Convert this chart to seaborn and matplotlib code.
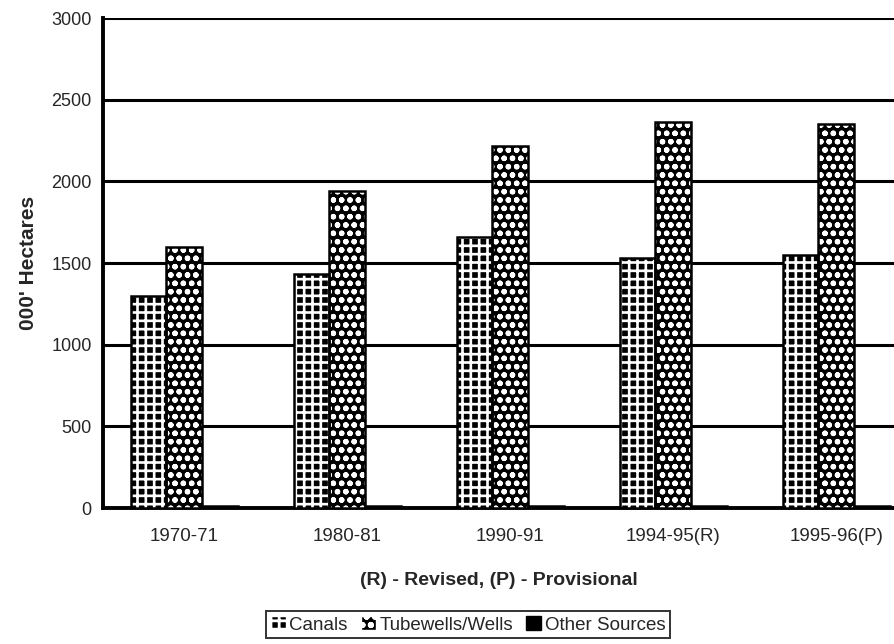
import matplotlib
matplotlib.use("Agg")
import matplotlib.pyplot as plt
import seaborn as sns
import pandas as pd
from matplotlib.patches import Rectangle, Patch

years = ["1970-71", "1980-81", "1990-91", "1994-95(R)", "1995-96(P)"]
canals = [1300, 1435, 1660, 1530, 1550]
tubewells = [1600, 1940, 2215, 2365, 2350]
other = [15, 12, 14, 14, 12]
series = ["Canals", "Tubewells/Wells", "Other Sources"]
yticks = [0, 500, 1000, 1500, 2000, 2500, 3000]

rows = []
for name, vals in zip(series, [canals, tubewells, other]):
    for y, v in zip(years, vals):
        rows.append({"Year": y, "Source": name, "Value": v})
df = pd.DataFrame(rows)

sns.set_style("white")
plt.rcParams["font.family"] = ["Liberation Sans", "DejaVu Sans"]
plt.rcParams["hatch.linewidth"] = 2.0

fig = plt.figure(figsize=(8.95, 6.44), dpi=100)
ax = fig.add_axes([0.115, 0.211, 0.885, 0.761])

sns.barplot(data=df, x="Year", y="Value", hue="Source", hue_order=series,
            order=years, palette=["black", "black", "black"], width=0.66,
            ax=ax, legend=False, errorbar=None, saturation=1, zorder=3)

styles = {
    0: dict(face="black", hatch="++", hlw=1.9),
    1: dict(face="black", hatch="oo..", hlw=1.6),
    2: dict(face="black", hatch=None, hlw=None),
}
for i, cont in enumerate(ax.containers):
    st = styles[i]
    for p in cont.patches:
        p.set_facecolor(st["face"])
        p.set_linewidth(0)
        if st["hatch"]:
            p.set_hatch(st["hatch"])
            p.set_edgecolor("white")
            if hasattr(p, "set_hatch_linewidth"):
                p.set_hatch_linewidth(st["hlw"])
        else:
            p.set_edgecolor("black")
        ax.add_patch(Rectangle(p.get_xy(), p.get_width(), p.get_height(),
                               fill=False, edgecolor="black", linewidth=1.8, zorder=4))

ax.set_ylim(0, 3000)
ax.set_xlim(-0.5, 4.36)
ax.set_yticks(yticks)
ax.set_yticklabels([str(t) for t in yticks], fontsize=13)
ax.tick_params(axis="x", length=0, pad=14, labelsize=13.5)
ax.tick_params(axis="y", direction="out", length=5, width=1.5, color="black", pad=3)
ax.yaxis.grid(True, color="black", linewidth=2.2, zorder=0)
ax.set_axisbelow(True)
for s in ["top", "right"]:
    ax.spines[s].set_visible(False)
ax.spines["left"].set_linewidth(2.8)
ax.spines["bottom"].set_linewidth(2.8)
ax.spines["left"].set_color("black")
ax.spines["bottom"].set_color("black")

ax.set_ylabel("000' Hectares", fontsize=15, fontweight="bold", labelpad=10)
ax.set_xlabel("(R) - Revised, (P) - Provisional", fontsize=14, fontweight="bold", labelpad=20)

handles = [
    Patch(facecolor="black", edgecolor="white", hatch="++", label=series[0]),
    Patch(facecolor="black", edgecolor="white", hatch="oo..", label=series[1]),
    Patch(facecolor="black", edgecolor="black", label=series[2]),
]
leg = fig.legend(handles=handles, loc="center", bbox_to_anchor=(0.523, 0.03),
                 ncol=3, frameon=True, fancybox=False, fontsize=13.5,
                 handlelength=0.8, handleheight=0.8, handletextpad=0.2,
                 columnspacing=0.7, borderpad=0.25)
leg.get_frame().set_edgecolor("black")
leg.get_frame().set_linewidth(1.4)

fig.savefig("out.png", dpi=100)
